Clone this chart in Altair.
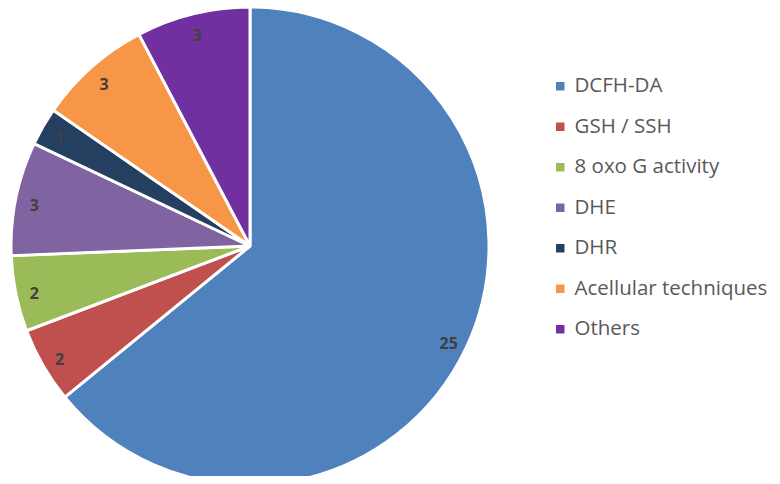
import altair as alt
import pandas as pd

categories = ["DCFH-DA", "GSH / SSH", "8 oxo G activity", "DHE", "DHR", "Acellular techniques", "Others"]
values = [25, 2, 2, 3, 1, 3, 3]
colors = ["#4F81BD", "#C0504D", "#9BBB59", "#8064A2", "#243F60", "#F79646", "#7030A0"]

df = pd.DataFrame({"category": categories, "value": values, "idx": list(range(len(values)))})

cx, cy, R = 242, 238, 239

base = alt.Chart(df).encode(
    theta=alt.Theta("value:Q", stack=True),
    order=alt.Order("idx:Q"),
    x=alt.value(cx),
    y=alt.value(cy),
)

arcs = base.mark_arc(outerRadius=R, stroke="white", strokeWidth=3).encode(
    color=alt.Color(
        "category:N",
        scale=alt.Scale(domain=categories, range=colors),
        sort=categories,
        legend=alt.Legend(
            title=None,
            orient="none",
            legendX=542,
            legendY=68,
            symbolType="square",
            symbolSize=72,
            symbolStrokeWidth=0,
            labelFontSize=20.5,
            labelFont="Open Sans",
            labelColor="#595959",
            rowPadding=19.5,
            labelOffset=4,
            labelLimit=300,
        ),
    )
)

labels = base.mark_text(
    radius=220, dy=4, fontSize=16, fontWeight="bold", font="Open Sans", color="#404040"
).encode(text=alt.Text("value:Q"))

chart = (arcs + labels).properties(
    width=764, height=468, padding=0, autosize="none"
).configure_view(stroke=None)

chart.save("out.html", embed_options={"renderer": "svg", "actions": False})
